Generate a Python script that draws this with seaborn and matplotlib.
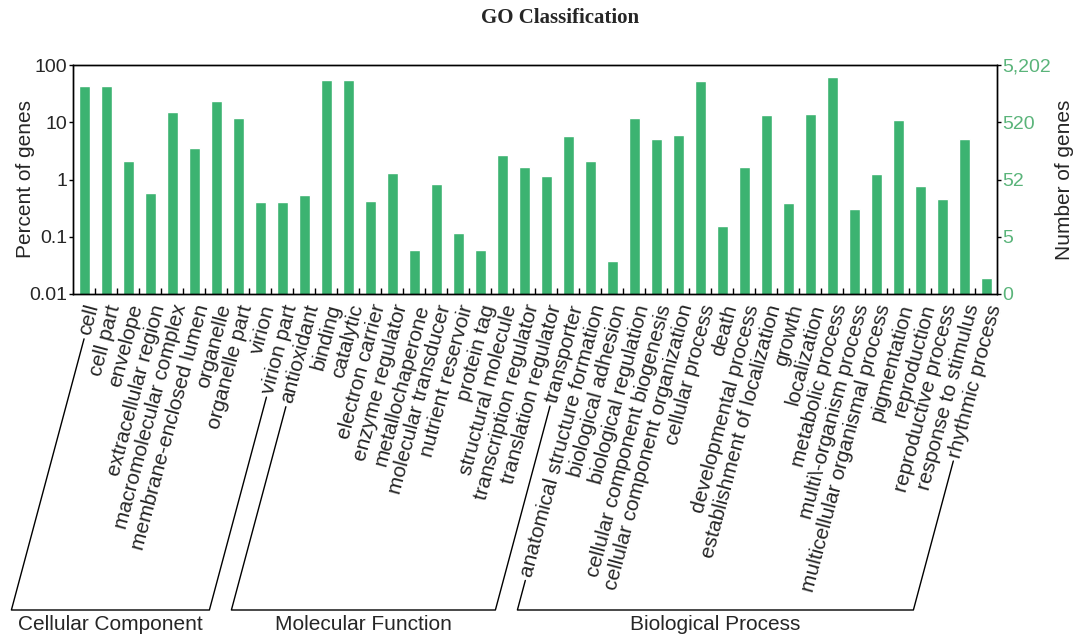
import numpy as np
import pandas as pd
import seaborn as sns
import matplotlib.pyplot as plt
from matplotlib.lines import Line2D
from matplotlib.ticker import FixedLocator, NullLocator

# GO terms per ontology
cellular_component = ["cell", "cell part", "envelope", "extracellular region",
                      "macromolecular complex", "membrane-enclosed lumen",
                      "organelle", "organelle part", "virion", "virion part"]
molecular_function = ["antioxidant", "binding", "catalytic", "electron carrier",
                      "enzyme regulator", "metallochaperone", "molecular transducer",
                      "nutrient reservoir", "protein tag", "structural molecule",
                      "transcription regulator", "translation regulator", "transporter"]
biological_process = ["anatomical structure formation", "biological adhesion",
                      "biological regulation", "cellular component biogenesis",
                      "cellular component organization", "cellular process", "death",
                      "developmental process", "establishment of localization", "growth",
                      "localization", "metabolic process", "multi\\-organism process",
                      "multicellular organismal process", "pigmentation", "reproduction",
                      "reproductive process", "response to stimulus", "rhythmic process"]

# percent of genes (log axis), estimated from the bars
cc_pct = [43.6, 43.6, 2.14, 0.58, 15.2, 3.5, 23.7, 11.8, 0.40, 0.40]
mf_pct = [0.54, 54.8, 54.8, 0.42, 1.31, 0.058, 0.83, 0.115, 0.058, 2.69, 1.64, 1.14, 5.66]
bp_pct = [2.08, 0.038, 11.8, 5.1, 5.9, 53.3, 0.152, 1.64, 13.5, 0.383, 14.1, 61.1,
          0.30, 1.26, 11.0, 0.77, 0.46, 5.1, 0.019]

group_names = ["Cellular Component", "Molecular Function", "Biological Process"]
total_genes = 5202
pct_ticks = [0.01, 0.1, 1, 10, 100]

bar_color = "#3cb371"
num_color = "#5ab47a"

W, H = 1075, 643

sns.set_style("ticks")
plt.rcParams["font.family"] = ["Liberation Sans", "DejaVu Sans"]
plt.rcParams["axes.edgecolor"] = "black"
plt.rcParams["axes.linewidth"] = 1.0

terms = cellular_component + molecular_function + biological_process
df = pd.DataFrame({
    "term": terms,
    "percent": cc_pct + mf_pct + bp_pct,
    "group": [group_names[0]] * len(cellular_component)
             + [group_names[1]] * len(molecular_function)
             + [group_names[2]] * len(biological_process),
})
n = len(df)

fig = plt.figure(figsize=(W / 100, H / 100), dpi=100)
ax = fig.add_axes([73 / W, 1 - 294 / H, 924 / W, 229 / H])

sns.barplot(data=df, x="term", y="percent", color=bar_color, saturation=1,
            width=0.5, errorbar=None, ax=ax)
ax.set_yscale("log")
ax.set_ylim(0.01, 100)
ax.set_xlim(-0.5, n - 0.5)
ax.set_xlabel("")
ax.set_ylabel("Percent of genes", fontsize=15)
ax.yaxis.set_label_coords(-0.041, 0.5)

ax.set_yticks(pct_ticks)
ax.set_yticklabels([f"{v:g}" for v in pct_ticks], fontsize=14)
ax.yaxis.set_minor_locator(NullLocator())
ax.tick_params(axis="y", length=3, width=1, pad=1, color="black")

# category labels, rotated along the same slant as the brackets
ax.set_xticks(range(n))
ax.set_xticklabels(df["term"], rotation=75, ha="right", va="top",
                   rotation_mode="anchor", fontsize=15)
ax.tick_params(axis="x", which="major", length=0, pad=6)
ax.xaxis.set_minor_locator(FixedLocator(np.arange(0.5, n - 1, 1)))
ax.tick_params(axis="x", which="minor", direction="in", length=4, width=1, color="black")

# right axis: number of genes
ax2 = ax.twinx()
ax2.set_yscale("log")
ax2.set_ylim(0.01, 100)
ax2.set_yticks(pct_ticks)
ax2.set_yticklabels([f"{int(total_genes * p / 100):,}" for p in pct_ticks],
                    fontsize=14, color=num_color)
ax2.yaxis.set_minor_locator(NullLocator())
ax2.tick_params(axis="y", length=3, width=1, pad=1, color="black")
ax2.set_ylabel("Number of genes", fontsize=15)
ax2.yaxis.set_label_coords(1.063, 0.5)
for s in ax2.spines.values():
    s.set_color("black")

fig.text(560 / W, 1 - 18 / H, "GO Classification", ha="center", va="center",
         fontsize=15, fontweight="bold", family="Liberation Serif")

# brackets under the labels of each ontology
fig.canvas.draw()
renderer = fig.canvas.get_renderer()
ang = np.deg2rad(75)
c, s = np.cos(ang), np.sin(ang)
y_br = H - 610
labels = ax.get_xticklabels()


def label_line(i):
    bb = labels[i].get_window_extent(renderer)
    h = (bb.width * s - bb.height * c) / (s * s - c * c)
    x0 = bb.x0 + 0.966 * h - 0.5 * h * s
    y0 = bb.y0 + 0.5 * h * c
    top = (x0 - 4 * c, y0 - 4 * s)
    t = (y0 - y_br) / s
    bottom = (x0 - t * c, y_br)
    return top, bottom


start = 0
for name, members in zip(group_names, [cellular_component, molecular_function, biological_process]):
    first, last = start, start + len(members) - 1
    start += len(members)
    lt, lb = label_line(first)
    rt, rb = label_line(last)
    xs = [lt[0], lb[0], rb[0], rt[0]]
    ys = [lt[1], lb[1], rb[1], rt[1]]
    fig.add_artist(Line2D(np.array(xs) / W, np.array(ys) / H, color="black", lw=1.0))
    fig.text((lb[0] + rb[0]) / 2 / W, (y_br - 15) / H, name, ha="center", va="center",
             fontsize=15)

fig.savefig("out.png", dpi=100)
